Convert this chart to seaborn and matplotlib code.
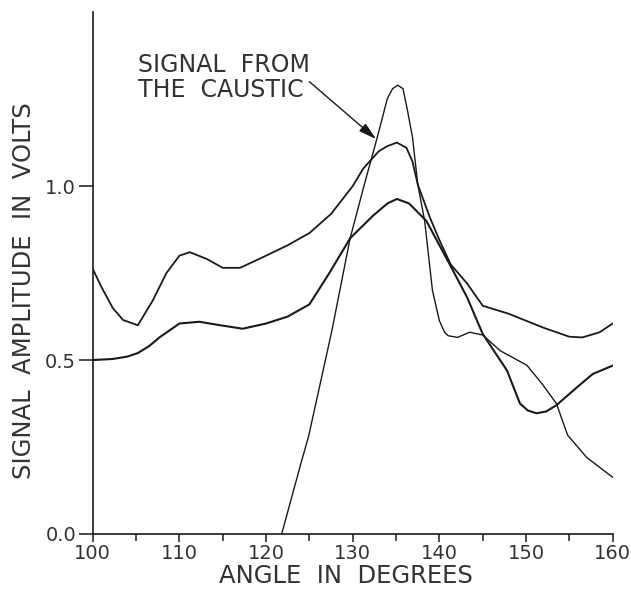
import numpy as np
import pandas as pd
import matplotlib
matplotlib.use("Agg")
import matplotlib.pyplot as plt
import seaborn as sns

# upper broad curve
upper_x = [100, 101, 102.3, 103.5, 105.2, 106.9, 108.5, 110, 111.2, 113.2, 115, 117, 120,
           122.5, 125, 127.5, 130, 131.2, 133, 134, 135.1, 136.2, 136.9, 137.5, 138.9, 140,
           141.3, 143.2, 145, 148, 152, 155, 156.5, 158.5, 160]
upper_y = [0.762, 0.71, 0.65, 0.615, 0.60, 0.67, 0.75, 0.80, 0.81, 0.79, 0.765, 0.765, 0.80,
           0.83, 0.865, 0.92, 1.0, 1.05, 1.10, 1.115, 1.125, 1.11, 1.07, 1.005, 0.91, 0.845,
           0.775, 0.72, 0.656, 0.633, 0.593, 0.567, 0.565, 0.58, 0.605]

# lower broad curve
lower_x = [100, 102.3, 104, 105.2, 106.5, 107.7, 110, 112.3, 114.7, 117.3, 120, 122.5, 125,
           127.3, 129.7, 132.3, 134, 135.1, 136.5, 138.5, 140, 141.3, 143.2, 145, 147.8,
           149.3, 150.2, 151.2, 152.3, 153.5, 155.8, 157.7, 160]
lower_y = [0.50, 0.503, 0.51, 0.52, 0.54, 0.565, 0.605, 0.61, 0.60, 0.59, 0.605, 0.625, 0.66,
           0.75, 0.85, 0.914, 0.95, 0.963, 0.95, 0.90, 0.83, 0.77, 0.68, 0.575, 0.47,
           0.375, 0.355, 0.347, 0.352, 0.37, 0.42, 0.46, 0.484]

# signal from the caustic
caustic_x = [121.8, 124.1, 124.9, 127.6, 129.7, 131.4, 132.8, 134, 134.6, 135.2, 135.8, 136.3,
             136.9, 137.5, 138.3, 139.2, 140, 140.6, 141, 142.1, 143.5, 145, 147, 150.1,
             151.9, 153.5, 154.8, 157, 160]
caustic_y = [0.0, 0.21, 0.28, 0.585, 0.85, 1.01, 1.137, 1.252, 1.28, 1.29, 1.28, 1.22,
             1.14, 1.006, 0.90, 0.70, 0.613, 0.58, 0.57, 0.565, 0.58, 0.572, 0.527, 0.485,
             0.43, 0.375, 0.284, 0.22, 0.163]

x_ticks = [100, 110, 120, 130, 140, 150, 160]
y_ticks = [0.0, 0.5, 1.0]

sns.set_theme(style="ticks")
plt.rcParams['font.family'] = ['DejaVu Sans']

fig = plt.figure(figsize=(6.31, 5.89), dpi=100)
ax = fig.add_axes([0.147, 0.0934, 0.824, 0.886])

ink = "#1a1a1a"
txt = "#333333"
sns.lineplot(x=upper_x, y=upper_y, ax=ax, color=ink, lw=1.3, estimator=None)
sns.lineplot(x=lower_x, y=lower_y, ax=ax, color=ink, lw=1.5, estimator=None)
sns.lineplot(x=caustic_x, y=caustic_y, ax=ax, color=ink, lw=1.0, estimator=None)

ax.set_xlim(100, 160)
ax.set_ylim(0, 1.5)
ax.set_xticks(x_ticks)
ax.set_xticks(np.arange(105, 160, 10), minor=True)
ax.set_yticks(y_ticks)
ax.set_yticklabels(["0.0", "0.5", "1.0"])
sns.despine(ax=ax)
for s in ["left", "bottom"]:
    ax.spines[s].set_color(ink)
    ax.spines[s].set_linewidth(1.2)
ax.tick_params(axis="x", which="major", length=6, width=1.1, color=ink,
               labelsize=14, labelcolor=txt, pad=1)
ax.tick_params(axis="x", which="minor", length=5, width=1.1, color=ink)
ax.tick_params(axis="y", length=10, width=1.1, color=ink,
               labelsize=14, labelcolor=txt, pad=2)

ax.set_xlabel("ANGLE  IN  DEGREES", fontsize=17.5, color=txt)
ax.set_ylabel("SIGNAL  AMPLITUDE  IN  VOLTS", fontsize=17.5, color=txt)
ax.xaxis.set_label_coords(0.487, -0.058)
ax.yaxis.set_label_coords(-0.11, 0.467)

ax.text(105.2, 1.311, "SIGNAL  FROM\nTHE  CAUSTIC", fontsize=17, color=txt,
        ha="left", va="center", linespacing=1.05)
ax.annotate("", xy=(132.7, 1.135), xytext=(125.0, 1.30),
            arrowprops=dict(arrowstyle="-|>,head_length=0.9,head_width=0.25",
                            color=ink, lw=1.0, shrinkA=0, shrinkB=0))

fig.savefig("out.png", dpi=100)
